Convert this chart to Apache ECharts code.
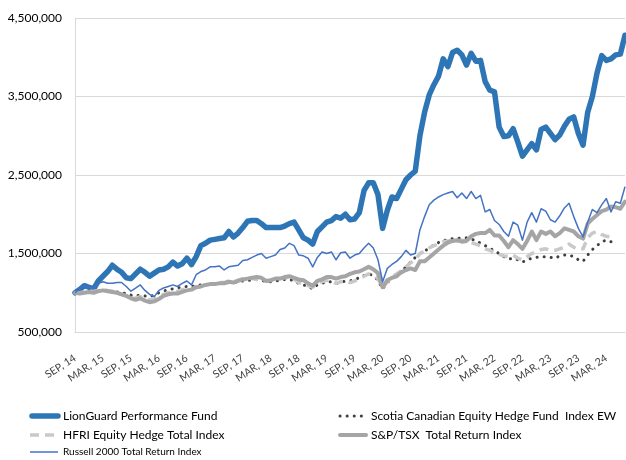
<!DOCTYPE html>
<html>
<head>
<meta charset="utf-8">
<script src="https://cdn.jsdelivr.net/npm/echarts@6/dist/echarts.min.js"></script>
<style>
  html, body { margin: 0; padding: 0; background: #fff; }
  #chart { width: 626px; height: 460px; }
</style>
</head>
<body>
<div id="chart"></div>
<script>
// monthly, Sep 2014 .. Jul 2024 (values in millions)
const MONTHS = ['JAN', 'FEB', 'MAR', 'APR', 'MAY', 'JUN', 'JUL', 'AUG', 'SEP', 'OCT', 'NOV', 'DEC']
const START_YEAR = 2014
const START_MONTH = 8
const N_MONTHS = 119

const yTicks = [500000, 1500000, 2500000, 3500000, 4500000]

const lionGuard = [
  1.00, 1.04, 1.09, 1.07, 1.05, 1.15, 1.21, 1.27, 1.35, 1.30, 1.26, 1.19, 1.18, 1.24, 1.30, 1.26,
  1.21, 1.25, 1.29, 1.30, 1.33, 1.39, 1.34, 1.37, 1.44, 1.36, 1.46, 1.60, 1.63, 1.67, 1.68, 1.69,
  1.70, 1.78, 1.71, 1.76, 1.83, 1.91, 1.92, 1.92, 1.88, 1.83, 1.83, 1.83, 1.83, 1.85, 1.88, 1.90,
  1.80, 1.70, 1.67, 1.62, 1.78, 1.84, 1.90, 1.92, 1.97, 1.95, 2.00, 1.93, 1.94, 2.02, 2.30, 2.40,
  2.40, 2.25, 1.82, 2.05, 2.22, 2.20, 2.32, 2.44, 2.50, 2.55, 3.00, 3.30, 3.52, 3.65, 3.76, 3.98,
  3.88, 4.06, 4.09, 4.03, 3.90, 4.05, 3.95, 3.96, 3.69, 3.58, 3.56, 3.11, 2.99, 3.00, 3.09, 2.92,
  2.74, 2.82, 2.90, 2.82, 3.08, 3.11, 3.03, 2.95, 3.01, 3.12, 3.21, 3.24, 3.03, 2.88, 3.30, 3.50,
  3.80, 4.02, 3.96, 3.98, 4.03, 4.04, 4.28
]

const scotia = [
  1.00, 1.00, 1.01, 1.02, 1.02, 1.03, 1.03, 1.02, 1.02, 1.01, 1.00, 0.99, 0.97, 0.96, 0.97, 0.96,
  0.95, 0.97, 1.00, 1.02, 1.04, 1.05, 1.06, 1.07, 1.08, 1.08, 1.09, 1.10, 1.10, 1.11, 1.12, 1.12,
  1.12, 1.13, 1.13, 1.14, 1.15, 1.16, 1.16, 1.17, 1.16, 1.14, 1.14, 1.15, 1.16, 1.17, 1.17, 1.15,
  1.12, 1.10, 1.08, 1.05, 1.10, 1.12, 1.14, 1.14, 1.12, 1.13, 1.15, 1.15, 1.17, 1.19, 1.22, 1.24,
  1.22, 1.16, 1.05, 1.13, 1.18, 1.22, 1.27, 1.33, 1.39, 1.45, 1.50, 1.53, 1.57, 1.61, 1.64, 1.66,
  1.68, 1.69, 1.69, 1.70, 1.70, 1.68, 1.67, 1.63, 1.60, 1.57, 1.53, 1.50, 1.46, 1.43, 1.44, 1.42,
  1.39, 1.42, 1.44, 1.45, 1.46, 1.46, 1.45, 1.44, 1.47, 1.48, 1.48, 1.46, 1.42, 1.40, 1.48, 1.55,
  1.60, 1.65, 1.67, 1.65
]

const hfri = [
  1.00, 1.00, 1.01, 1.02, 1.02, 1.03, 1.04, 1.03, 1.02, 1.00, 0.98, 0.96, 0.94, 0.93, 0.95, 0.93,
  0.91, 0.92, 0.95, 0.98, 1.00, 1.01, 1.02, 1.04, 1.05, 1.05, 1.07, 1.08, 1.10, 1.11, 1.12, 1.13,
  1.13, 1.15, 1.14, 1.16, 1.18, 1.19, 1.18, 1.17, 1.16, 1.15, 1.16, 1.17, 1.18, 1.19, 1.19, 1.17,
  1.13, 1.12, 1.09, 1.07, 1.12, 1.14, 1.16, 1.15, 1.12, 1.14, 1.15, 1.13, 1.15, 1.18, 1.21, 1.24,
  1.23, 1.18, 1.06, 1.14, 1.20, 1.24, 1.28, 1.33, 1.38, 1.42, 1.50, 1.53, 1.57, 1.60, 1.62, 1.65,
  1.66, 1.67, 1.66, 1.67, 1.66, 1.64, 1.62, 1.60, 1.56, 1.54, 1.51, 1.49, 1.47, 1.46, 1.48, 1.44,
  1.42, 1.46, 1.50, 1.52, 1.55, 1.56, 1.54, 1.54, 1.56, 1.58, 1.62, 1.58, 1.55, 1.56, 1.70, 1.76,
  1.78, 1.74, 1.72, 1.71
]

const tsx = [
  1.00, 0.99, 1.00, 1.01, 1.00, 1.02, 1.03, 1.02, 1.01, 1.00, 0.98, 0.96, 0.93, 0.91, 0.93, 0.90,
  0.88, 0.89, 0.92, 0.96, 0.98, 0.99, 0.99, 1.01, 1.03, 1.04, 1.07, 1.08, 1.10, 1.11, 1.11, 1.12,
  1.12, 1.14, 1.13, 1.15, 1.17, 1.18, 1.19, 1.20, 1.19, 1.15, 1.16, 1.18, 1.18, 1.20, 1.21, 1.19,
  1.17, 1.16, 1.12, 1.09, 1.15, 1.17, 1.20, 1.20, 1.18, 1.20, 1.21, 1.24, 1.26, 1.27, 1.30, 1.33,
  1.30, 1.25, 1.07, 1.16, 1.19, 1.21, 1.26, 1.29, 1.31, 1.29, 1.40, 1.40, 1.45, 1.50, 1.55, 1.60,
  1.64, 1.66, 1.67, 1.65, 1.66, 1.72, 1.75, 1.76, 1.76, 1.80, 1.73, 1.73, 1.66, 1.58, 1.67, 1.62,
  1.56, 1.66, 1.78, 1.67, 1.78, 1.75, 1.78, 1.72, 1.76, 1.82, 1.80, 1.78, 1.72, 1.69, 1.88, 1.94,
  1.99, 2.04, 2.06, 2.10, 2.09, 2.07, 2.16
]

const russell = [
  1.00, 1.05, 1.09, 1.07, 1.05, 1.12, 1.14, 1.12, 1.12, 1.13, 1.13, 1.08, 1.02, 1.06, 1.10, 1.03,
  0.98, 0.95, 1.03, 1.06, 1.08, 1.10, 1.08, 1.12, 1.15, 1.10, 1.23, 1.27, 1.29, 1.33, 1.33, 1.34,
  1.29, 1.33, 1.34, 1.35, 1.41, 1.42, 1.45, 1.48, 1.50, 1.44, 1.46, 1.48, 1.55, 1.57, 1.63, 1.60,
  1.48, 1.47, 1.44, 1.33, 1.45, 1.52, 1.50, 1.52, 1.42, 1.51, 1.52, 1.44, 1.48, 1.50, 1.57, 1.63,
  1.57, 1.42, 1.14, 1.31, 1.36, 1.40, 1.46, 1.54, 1.48, 1.50, 1.80, 1.97, 2.12, 2.18, 2.22, 2.25,
  2.27, 2.29, 2.21, 2.27, 2.20, 2.29, 2.20, 2.24, 2.03, 2.06, 1.92, 1.87, 1.78, 1.72, 1.90, 1.86,
  1.67, 1.90, 2.02, 1.90, 2.07, 2.04, 1.93, 1.90, 1.98, 2.08, 2.14, 1.97, 1.82, 1.71, 1.90, 2.06,
  2.02, 2.12, 2.20, 2.03, 2.16, 2.14, 2.35
]

const categories = []
for (let i = 0; i < N_MONTHS; i++) {
  const m = (START_MONTH + i) % 12
  const y = START_YEAR + Math.floor((START_MONTH + i) / 12)
  categories.push(MONTHS[m] + ', ' + String(y).slice(2))
}

const FONT = 'Lato, "Liberation Sans", sans-serif'
const toDollars = arr => arr.map(v => Math.round(v * 1000000))

const names = {
  lg: 'LionGuard Performance Fund',
  sc: 'Scotia Canadian Equity Hedge Fund  Index EW',
  hf: 'HFRI Equity Hedge Total Index',
  tsx: 'S&P/TSX  Total Return Index',
  rs: 'Russell 2000 Total Return Index'
}

const colors = { lg: '#2E75B6', sc: '#404040', hf: '#C9C9C9', tsx: '#A5A5A5', rs: '#4472C4' }
const widths = { lg: 5.5, sc: 3, hf: 3.5, tsx: 4, rs: 1.5 }
const dashes = { lg: 'solid', sc: [0.1, 7], hf: [9, 6], tsx: 'solid', rs: 'solid' }
const caps = { lg: 'round', sc: 'round', hf: 'butt', tsx: 'round', rs: 'butt' }

const lineStyleOf = key => ({
  color: colors[key], width: widths[key], type: dashes[key], cap: caps[key]
})

const makeSeries = (key, values) => ({
  name: names[key], type: 'line', data: toDollars(values),
  symbol: 'none', itemStyle: { color: colors[key] },
  lineStyle: Object.assign(lineStyleOf(key), { join: 'round' })
})

// legend key drawn by hand: [series key, left x, row centre y, font size]
const legendRows = [
  ['lg', 30, 416, 12],
  ['hf', 30, 435, 12],
  ['rs', 30, 452, 10],
  ['sc', 338, 416, 12],
  ['tsx', 338, 435, 12]
]

const legendGraphics = []
legendRows.forEach(([key, x, y, size]) => {
  const dash = Array.isArray(dashes[key]) ? dashes[key] : null
  legendGraphics.push({
    type: 'line',
    shape: { x1: x + (caps[key] === 'round' ? 2 : 0), y1: y, x2: x + 28, y2: y },
    style: {
      stroke: colors[key], lineWidth: widths[key],
      lineDash: dash, lineCap: caps[key]
    },
    silent: true
  })
  legendGraphics.push({
    type: 'text',
    x: x + 33, y: y,
    style: {
      text: names[key], fill: '#000',
      fontFamily: FONT, fontSize: size,
      verticalAlign: 'middle', align: 'left'
    },
    silent: true
  })
})

const chart = echarts.init(document.getElementById('chart'))

const option = {
  animation: false,
  backgroundColor: '#fff',
  grid: { left: 75, right: 1, top: 18, bottom: 128, outerBoundsMode: 'none' },
  graphic: legendGraphics,
  xAxis: {
    type: 'category',
    data: categories,
    boundaryGap: false,
    axisLine: { show: true, lineStyle: { color: '#D9D9D9' } },
    axisTick: { show: false },
    axisLabel: {
      interval: 5,
      rotate: 33,
      margin: 25,
      fontFamily: FONT,
      fontSize: 10.5,
      color: '#404040'
    },
    splitLine: { show: false }
  },
  yAxis: {
    type: 'value',
    min: yTicks[0],
    max: yTicks[yTicks.length - 1],
    interval: 1000000,
    axisLine: { show: true, lineStyle: { color: '#D9D9D9' } },
    axisTick: { show: false },
    axisLabel: {
      margin: 13,
      fontFamily: FONT,
      fontSize: 12,
      color: '#000',
      formatter: v => v.toLocaleString('en-US')
    },
    splitLine: { lineStyle: { color: '#D9D9D9' } }
  },
  series: [
    makeSeries('lg', lionGuard),
    makeSeries('sc', scotia),
    makeSeries('hf', hfri),
    makeSeries('tsx', tsx),
    makeSeries('rs', russell)
  ]
}

chart.setOption(option)
</script>
</body>
</html>
